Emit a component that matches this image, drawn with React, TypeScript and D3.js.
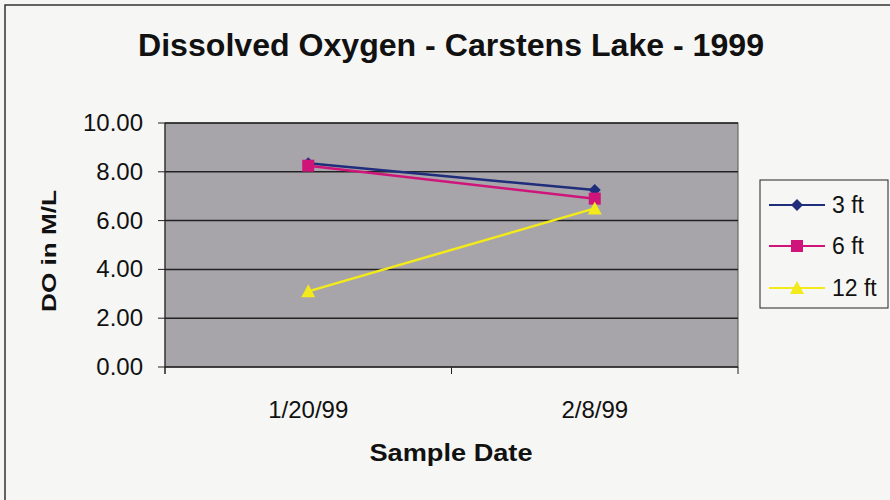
import React from "react";
import * as d3 from "d3";

const categories = ["1/20/99", "2/8/99"];
const seriesNames = ["3 ft", "6 ft", "12 ft"];
const values3ft = [8.35, 7.25];
const values6ft = [8.25, 6.9];
const values12ft = [3.1, 6.5];
const yTicks = [0, 2, 4, 6, 8, 10];
const colors = ["#1f2d7a", "#d0157a", "#f2ea1a"];
const markers = ["diamond", "square", "triangle"];

const W = 890, H = 500;
const plot = { left: 165, right: 738, top: 123, bottom: 367 };

function Marker({ type, x, y, color }: { type: string; x: number; y: number; color: string }) {
  if (type === "diamond") {
    return <path d={`M${x},${y - 6}L${x + 6},${y}L${x},${y + 6}L${x - 6},${y}Z`} fill={color} />;
  }
  if (type === "square") {
    return <rect x={x - 6} y={y - 6} width={12} height={12} fill={color} />;
  }
  return <path d={`M${x},${y - 7}L${x + 7},${y + 6}L${x - 7},${y + 6}Z`} fill={color} />;
}

export default function App() {
  const x = d3.scaleBand<string>().domain(categories).range([plot.left, plot.right]);
  const y = d3.scaleLinear().domain([0, 10]).range([plot.bottom, plot.top]);
  const series = [values3ft, values6ft, values12ft];
  const line = d3
    .line<number>()
    .x((_, i) => (x(categories[i]) as number) + x.bandwidth() / 2)
    .y((d) => y(d));
  const font = "Liberation Sans, Arial, sans-serif";
  const legendRows = [205, 246, 288];
  return (
    <svg width={W} height={H} style={{ position: "absolute", left: 0, top: 0 }}>
      <rect x={0} y={0} width={W} height={H} fill="#f6f6f4" />
      <path d={`M5,${H}L5,5L${W},5`} fill="none" stroke="#333" strokeWidth={1.5} />
      <text x={451} y={56} textAnchor="middle" fontFamily={font} fontWeight="bold" fontSize={31}
        textLength={626} lengthAdjust="spacingAndGlyphs" fill="#111">
        Dissolved Oxygen - Carstens Lake - 1999
      </text>
      <rect x={plot.left} y={plot.top} width={plot.right - plot.left} height={plot.bottom - plot.top} fill="#a7a5aa" stroke="#555" strokeWidth={1} />
      {yTicks.map((t) => (
        <g key={t}>
          <line x1={plot.left} x2={plot.right} y1={y(t)} y2={y(t)} stroke="#222" strokeWidth={1.5} />
          <line x1={plot.left - 7} x2={plot.left} y1={y(t)} y2={y(t)} stroke="#222" strokeWidth={1} />
          <text x={plot.left - 22} y={y(t) + 8} textAnchor="end" fontFamily={font} fontSize={24} fill="#111">
            {t.toFixed(2)}
          </text>
        </g>
      ))}
      <line x1={plot.left} x2={plot.left} y1={plot.top} y2={plot.bottom + 7} stroke="#222" strokeWidth={1} />
      {[plot.left, (plot.left + plot.right) / 2, plot.right].map((tx, i) => (
        <line key={i} x1={tx} x2={tx} y1={plot.bottom} y2={plot.bottom + 7} stroke="#222" strokeWidth={1} />
      ))}
      {categories.map((c) => (
        <text key={c} x={(x(c) as number) + x.bandwidth() / 2} y={418} textAnchor="middle" fontFamily={font} fontSize={24} fill="#111">
          {c}
        </text>
      ))}
      <text x={451} y={461} textAnchor="middle" fontFamily={font} fontWeight="bold" fontSize={24}
        textLength={163} lengthAdjust="spacingAndGlyphs" fill="#111">
        Sample Date
      </text>
      <text transform="translate(56,251) rotate(-90)" textAnchor="middle" fontFamily={font} fontWeight="bold" fontSize={20}
        textLength={122} lengthAdjust="spacingAndGlyphs" fill="#111">
        DO in M/L
      </text>
      {series.map((s, si) => (
        <g key={si}>
          <path d={line(s) || ""} fill="none" stroke={colors[si]} strokeWidth={2.5} />
          {s.map((v, i) => (
            <Marker key={i} type={markers[si]} x={(x(categories[i]) as number) + x.bandwidth() / 2} y={y(v)} color={colors[si]} />
          ))}
        </g>
      ))}
      <rect x={760} y={180} width={128} height={128} fill="#f6f6f4" stroke="#222" strokeWidth={1} />
      {seriesNames.map((n, i) => (
        <g key={n}>
          <line x1={769} x2={825} y1={legendRows[i]} y2={legendRows[i]} stroke={colors[i]} strokeWidth={2} />
          <Marker type={markers[i]} x={797} y={legendRows[i]} color={colors[i]} />
          <text x={832} y={legendRows[i] + 8} fontFamily={font} fontSize={23} fill="#111">
            {n}
          </text>
        </g>
      ))}
    </svg>
  );
}
